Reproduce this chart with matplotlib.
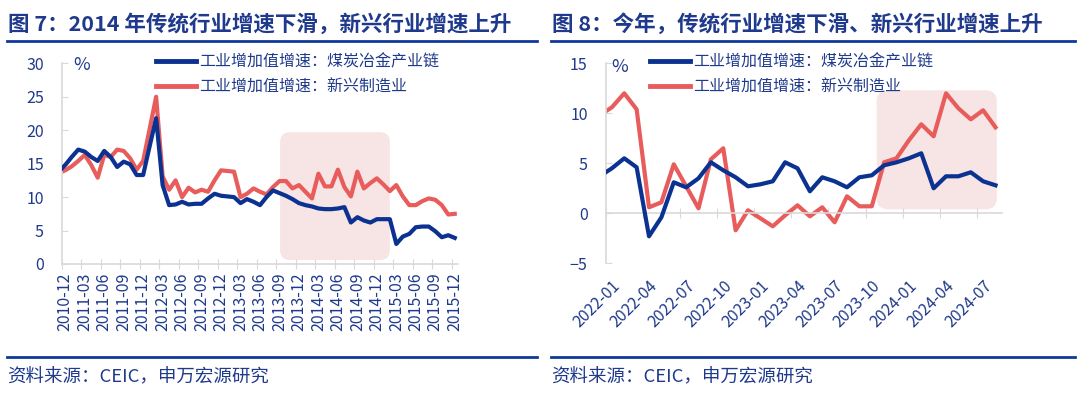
import numpy as np
import pandas as pd
import matplotlib.pyplot as plt
from matplotlib.patches import FancyBboxPatch
from matplotlib.lines import Line2D

plt.rcParams['font.family'] = ['Noto Sans CJK SC', 'DejaVu Sans']

# ---- data ----
# figure 7: monthly, first month (2010-11) sits left of the axis and gets clipped
months_7 = pd.period_range('2010-11', '2015-12', freq='M')
coal_7 = [13.8, 14.8, 16.0, 17.1, 16.8, 16.0, 15.4, 16.9, 16.0, 14.5, 15.3,
          14.9, 13.3, 13.3, 17.6, 21.8, 11.8, 8.8, 8.9, 9.3, 8.9, 9.0,
          9.0, 9.8, 10.5, 10.2, 10.1, 10.0, 9.1, 9.7, 9.3, 8.8, 10.0,
          11.0, 10.6, 10.2, 9.7, 9.1, 8.8, 8.6, 8.3, 8.2, 8.2, 8.3,
          8.5, 6.2, 7.0, 6.5, 6.2, 6.7, 6.7, 6.7, 3.0, 4.1, 4.5,
          5.5, 5.6, 5.6, 4.9, 4.0, 4.3, 3.9]
emerging_7 = [13.6, 14.0, 14.6, 15.4, 16.3, 14.8, 12.9, 16.3, 16.0, 17.1, 16.9,
              15.8, 14.1, 15.4, 20.2, 25.0, 13.1, 11.1, 12.5, 10.0, 11.4, 10.7,
              11.1, 10.8, 12.5, 14.0, 13.9, 13.8, 10.0, 10.5, 11.3, 10.8, 10.4,
              11.5, 12.4, 12.4, 11.3, 11.8, 10.8, 9.8, 13.5, 11.6, 11.6, 14.1,
              11.5, 10.1, 13.8, 11.3, 12.1, 12.8, 11.9, 10.9, 11.8, 10.1, 8.8,
              8.8, 9.4, 9.8, 9.6, 8.8, 7.4, 7.5]

# figure 8: monthly, first month (2021-12) clipped the same way
months_8 = pd.period_range('2021-12', '2024-08', freq='M')
coal_8 = [3.7, 4.5, 5.5, 4.6, -2.3, -0.4, 3.1, 2.6, 3.5, 5.1, 4.3, 3.6,
          2.7, 2.9, 3.2, 5.1, 4.5, 2.2, 3.6, 3.2, 2.6, 3.6, 3.8, 4.8,
          5.1, 5.5, 6.0, 2.5, 3.7, 3.7, 4.1, 3.2, 2.8]
emerging_8 = [9.8, 10.6, 12.0, 10.4, 0.6, 1.1, 4.9, 2.7, 0.5, 5.4, 6.5, -1.7,
              0.3, -0.5, -1.3, -0.2, 0.8, -0.3, 0.6, -0.9, 1.7, 0.7, 0.7, 5.1,
              5.5, 7.3, 8.9, 7.7, 12.0, 10.5, 9.4, 10.3, 8.6]

series_names = ['工业增加值增速：煤炭冶金产业链', '工业增加值增速：新兴制造业']
titles = ['图 7：2014 年传统行业增速下滑，新兴行业增速上升',
          '图 8：今年，传统行业增速下滑、新兴行业增速上升']
source = '资料来源：CEIC，申万宏源研究'

BLUE = '#0B3290'
RED = '#E85C5C'
TXT = '#1F3A8C'
RULE = '#10399A'
GRAY = '#D9D9D9'
SHADE = '#F7E4E4'

W, H = 1080, 393
fig = plt.figure(figsize=(W / 100, H / 100), dpi=100)


def px(x, y):
    return x / W, 1 - y / H


def panel(rect, months, coal, emerging, first, label_months, ylim, yticks,
          shade, leg_x, pct_xy, rot):
    ax = fig.add_axes(rect)
    x = np.arange(len(months)) - 0.5
    ax.plot(x, coal, color=BLUE, lw=3, zorder=3, solid_joinstyle='round')
    ax.plot(x, emerging, color=RED, lw=3, zorder=2, solid_joinstyle='round')
    ax.set_xlim(0, len(months) - 1)
    ax.set_ylim(*ylim)
    ax.set_yticks(yticks)

    lab = [k for k, p in enumerate(months) if p >= pd.Period(first, 'M')
           and p.month in label_months]
    marks = [k - 1 for k in lab]
    centers = [k - 0.5 for k in lab]
    names = [str(months[k]) for k in lab]

    for s in ['top', 'right']:
        ax.spines[s].set_visible(False)
    for s in ['left', 'bottom']:
        ax.spines[s].set_color(GRAY)
        ax.spines[s].set_linewidth(1.2)
    ax.tick_params(axis='y', direction='in', length=4, color=GRAY,
                   labelcolor=TXT, labelsize=11.5, pad=13)

    if ylim[0] < 0:
        ax.spines['bottom'].set_position(('data', 0))
        ax.set_xticks(marks, [''] * len(marks))
        ax.tick_params(axis='x', direction='inout', length=7, color=GRAY)
        sec = ax.secondary_xaxis('bottom')
        sec.spines['bottom'].set_visible(False)
        sec.set_xticks(centers, names, rotation=rot, ha='right',
                       va='top', rotation_mode='anchor')
        sec.tick_params(length=0, labelcolor=TXT, labelsize=11.5, pad=10)
    else:
        ax.set_xticks(marks, [''] * len(marks))
        ax.set_xticks(centers, names, minor=True, rotation=rot)
        ax.tick_params(axis='x', which='major', direction='inout', length=7,
                       color=GRAY)
        ax.tick_params(axis='x', which='minor', length=0, labelcolor=TXT,
                       labelsize=11.5, pad=6)

    (x0, x1), (y0, y1), rs = shade
    ax.add_patch(FancyBboxPatch((x0, y0), x1 - x0, y1 - y0,
                                boxstyle=f'round,pad=0,rounding_size={rs}',
                                facecolor=SHADE, edgecolor='none', zorder=1))

    handles = [Line2D([], [], color=BLUE, lw=3.5),
               Line2D([], [], color=RED, lw=3.5)]
    leg = ax.legend(handles, series_names, loc='upper left',
                    bbox_to_anchor=(leg_x, 1.05), frameon=False,
                    fontsize=11.5, handlelength=2.5, handletextpad=0.2,
                    labelspacing=0.55, borderpad=0, borderaxespad=0)
    for t in leg.get_texts():
        t.set_color(TXT)
    ax.text(pct_xy[0], pct_xy[1], '%', transform=ax.transAxes, color=TXT,
            fontsize=13, ha='center', va='center')
    return ax


panel([62 / W, 1 - 264 / H, 396 / W, 200.7 / H], months_7, coal_7, emerging_7,
      '2010-12', (3, 6, 9, 12), (0, 30), range(0, 31, 5),
      ((33.6, 50.5), (0.6, 19.7), 1.5), 0.237, (0.05, 0.99), 90)
panel([605.7 / W, 1 - 263.3 / H, 396 / W, 200 / H], months_8, coal_8,
      emerging_8, '2022-01', (1, 4, 7, 10), (-5, 15), range(-5, 16, 5),
      ((21.9, 31.6), (0.4, 12.3), 1.0), 0.112, (0.036, 0.983), 45)

# headers, rules and source lines
for x0, x1, title in [(7, 537, titles[0]), (551, 1075, titles[1])]:
    fig.text(*px(x0 + 1, 24), title, color=TXT, fontsize=15.5,
             fontweight='bold', va='center', ha='left')
    fig.add_artist(Line2D([x0 / W, x1 / W], [1 - 40.5 / H] * 2, color=RULE,
                          lw=2))
    fig.add_artist(Line2D([x0 / W, x1 / W], [1 - 357 / H] * 2, color=RULE,
                          lw=2))
    fig.text(*px(x0, 377), source, color=TXT, fontsize=13.3, va='center',
             ha='left')

fig.savefig('out.png', dpi=100)
